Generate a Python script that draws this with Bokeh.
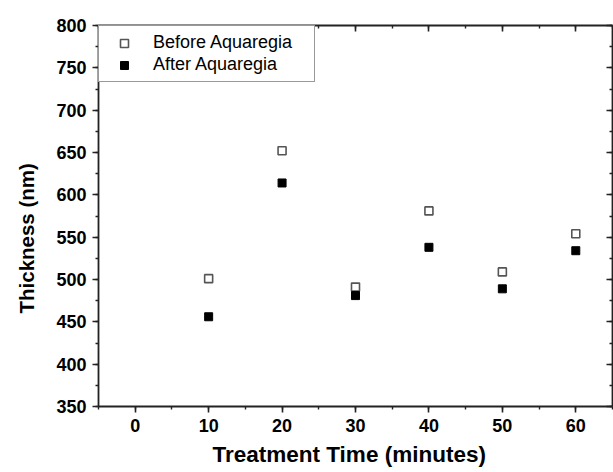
from bokeh.plotting import figure
from bokeh.models import (ColumnDataSource, LinearAxis, SingleIntervalTicker, Range1d,
                          Legend, LegendItem, CustomJSTickFormatter, Title)
from bokeh.embed import file_html
from bokeh.resources import INLINE

# data
time_min = [10, 20, 30, 40, 50, 60]
before_aquaregia = [501, 652, 491, 581, 509, 554]
after_aquaregia = [456, 614, 481, 538, 489, 534]

x_label = "Treatment Time (minutes)"
y_label = "Thickness (nm)"
series_names = ["Before Aquaregia", "After Aquaregia"]

FONT = "Liberation Sans"
AX_COLOR = "#222222"

p = figure(width=613, height=472, output_backend="svg", toolbar_location=None,
           x_range=Range1d(-5, 65), y_range=Range1d(350, 800),
           min_border_left=98, min_border_right=1, min_border_top=25, min_border_bottom=66,
           x_axis_location=None, y_axis_location=None)
p.grid.visible = False
p.outline_line_color = None
p.background_fill_color = "white"
p.border_fill_color = "white"

src = ColumnDataSource(dict(t=time_min, b=before_aquaregia, a=after_aquaregia))

r_before = p.scatter("t", "b", source=src, marker="square", size=8,
                     fill_color="white", line_color="#555555", line_width=1.6)
r_after = p.scatter("t", "a", source=src, marker="square", size=8,
                    fill_color="black", line_color="black", line_width=1)


def style_axis(ax, labels=True, inward=False):
    ax.axis_line_color = AX_COLOR
    ax.axis_line_width = 1.8
    ax.major_tick_line_color = AX_COLOR
    ax.minor_tick_line_color = AX_COLOR
    ax.major_tick_line_width = 1.6
    ax.minor_tick_line_width = 1.4
    if inward:
        ax.major_tick_in = 6
        ax.major_tick_out = 0
        ax.minor_tick_in = 3
        ax.minor_tick_out = 0
    else:
        ax.major_tick_in = 0
        ax.major_tick_out = 6
        ax.minor_tick_in = 0
        ax.minor_tick_out = 3
    if labels:
        ax.major_label_text_font = FONT
        ax.major_label_text_font_style = "bold"
        ax.major_label_text_font_size = "18px"
        ax.major_label_text_color = "black"
    else:
        ax.formatter = CustomJSTickFormatter(code="return '';")
        ax.major_label_standoff = 0


xt = SingleIntervalTicker(interval=10, num_minor_ticks=2)
yt = SingleIntervalTicker(interval=50, num_minor_ticks=2)

bottom = LinearAxis(ticker=xt)
style_axis(bottom)
bottom.major_label_standoff = 6
p.add_layout(bottom, "below")

left = LinearAxis(ticker=yt)
style_axis(left)
left.major_label_standoff = 6
p.add_layout(left, "left")

top = LinearAxis(ticker=SingleIntervalTicker(interval=10, num_minor_ticks=2))
style_axis(top, labels=False, inward=True)
p.add_layout(top, "above")

right = LinearAxis(ticker=SingleIntervalTicker(interval=50, num_minor_ticks=2))
style_axis(right, labels=False, inward=True)
p.add_layout(right, "right")

# axis titles
p.add_layout(Title(text=x_label, align="left", offset=114, vertical_align="bottom",
                   standoff=10, text_font=FONT, text_font_style="bold",
                   text_font_size="22.5px", text_color="black"), "below")
p.add_layout(Title(text=y_label, align="left", offset=93, vertical_align="top",
                   standoff=28, text_font=FONT, text_font_style="bold",
                   text_font_size="20.5px", text_color="black"), "left")

legend = Legend(items=[LegendItem(label=series_names[0], renderers=[r_before]),
                       LegendItem(label=series_names[1], renderers=[r_after])],
                location="top_left", margin=0, padding=6, spacing=1,
                glyph_width=38, glyph_height=20, label_standoff=10, label_width=155,
                label_text_font=FONT, label_text_font_size="18px",
                label_text_color="black",
                border_line_color="#333333", border_line_width=1.2,
                background_fill_color="white", background_fill_alpha=1.0)
p.add_layout(legend, "center")

open("out.html", "w").write(file_html(p, INLINE))
